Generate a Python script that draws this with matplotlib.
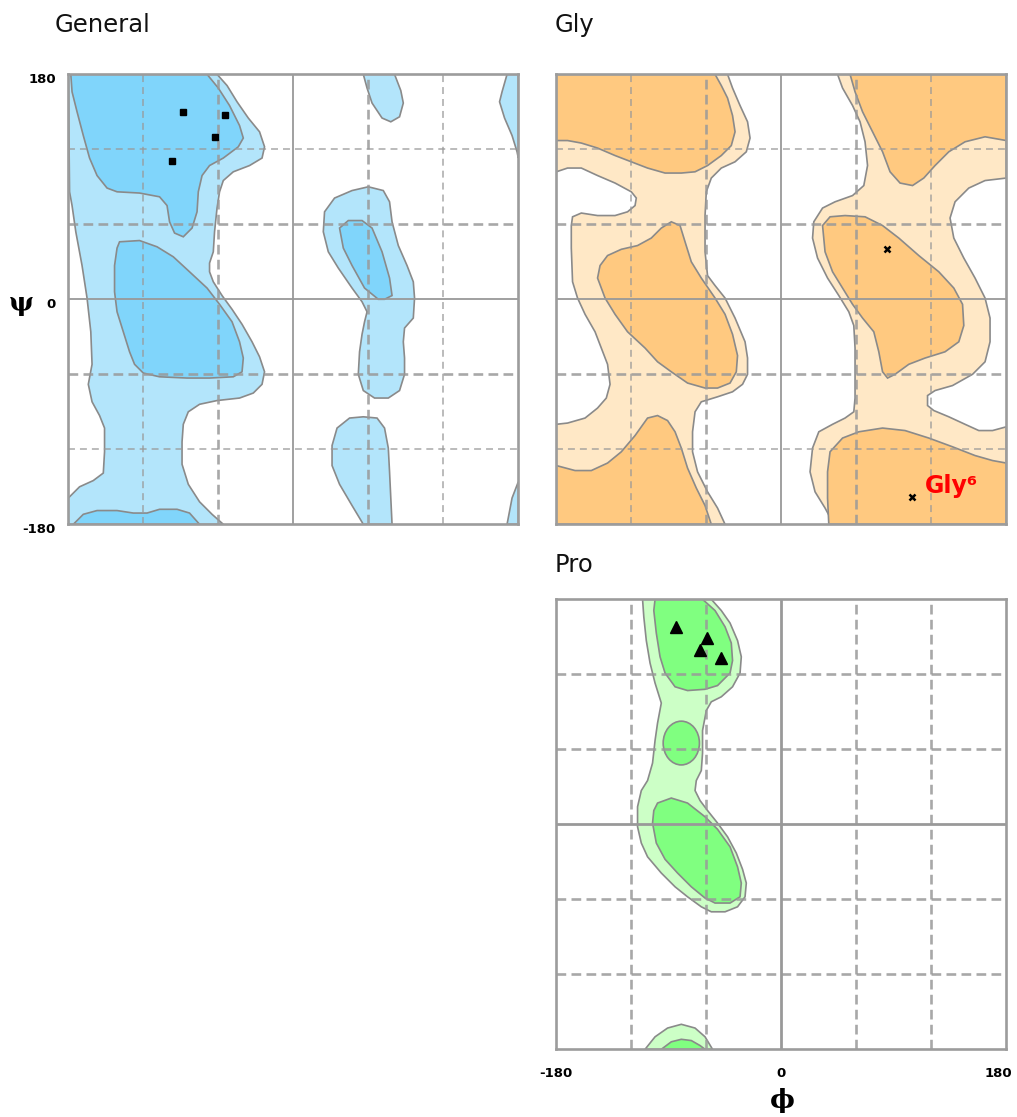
import matplotlib
matplotlib.use("Agg")
import matplotlib.pyplot as plt
from matplotlib.patches import Polygon, Ellipse
from matplotlib.transforms import ScaledTranslation

# region outlines as (phi, psi) in degrees
general_outer = [(-180, 180), (-61, 180), (-53, 171), (-45, 158), (-36, 145), (-27, 134), (-23, 122), (-25, 113),
                 (-35, 107), (-48, 102), (-56, 95), (-59, 86), (-61, 73), (-63, 54), (-64, 38), (-67, 29), (-67, 22),
                 (-64, 14), (-57, 3), (-49, -8), (-41, -20), (-33, -34), (-27, -46), (-23, -58), (-25, -68), (-32, -75),
                 (-43, -79), (-61, -81), (-75, -84), (-84, -90), (-88, -100), (-89, -114), (-89, -132), (-84, -148),
                 (-75, -162), (-65, -172), (-56, -180), (-180, -180), (-180, -159), (-171, -150), (-160, -145),
                 (-152, -139), (-151, -122), (-151, -103), (-155, -93), (-161, -82), (-164, -68), (-161, -52),
                 (-162, -26), (-165, 1), (-169, 27), (-174, 54), (-177, 75), (-179, 86)]
general_top_core = [(-178, 180), (-69, 180), (-60, 169), (-51, 155), (-43, 139), (-40, 129), (-44, 122), (-56, 113),
                    (-67, 107), (-73, 99), (-76, 86), (-77, 70), (-81, 57), (-88, 50), (-95, 53), (-99, 62), (-101, 75),
                    (-107, 82), (-123, 85), (-141, 86), (-149, 89), (-157, 99), (-163, 113), (-168, 131), (-173, 150),
                    (-177, 166)]
general_mid_core = [(-139, 46), (-123, 47), (-109, 42), (-96, 34), (-83, 22), (-69, 9), (-59, -4), (-49, -18),
                    (-43, -34), (-40, -47), (-41, -58), (-48, -62), (-67, -63), (-85, -63), (-107, -62), (-120, -59),
                    (-127, -52), (-131, -42), (-136, -26), (-141, -10), (-143, 6), (-143, 27), (-141, 41)]
general_bottom_core = [(-176, -180), (-168, -172), (-157, -169), (-141, -169), (-128, -171), (-117, -171),
                       (-107, -168), (-93, -168), (-83, -171), (-75, -180)]
general_alpha_l = [(60, 90), (72, 87), (77, 78), (79, 62), (84, 43), (91, 27), (96, 14), (97, 1), (96, -15), (89, -23),
                   (88, -34), (89, -47), (89, -60), (85, -73), (76, -79), (65, -79), (56, -73), (52, -60), (53, -42),
                   (55, -28), (57, -18), (59, -10), (55, -2), (47, 9), (36, 25), (28, 38), (24, 54), (25, 70), (33, 81),
                   (47, 87)]
general_alpha_l_core = [(37, 57), (44, 63), (55, 63), (63, 57), (71, 38), (77, 17), (79, 3), (73, 0), (68, 0), (57, 9),
                        (47, 27), (40, 41)]
general_top_mid = [(56, 180), (59, 169), (63, 157), (71, 145), (78, 142), (85, 146), (88, 157), (86, 167), (81, 180)]
general_bottom_mid = [(56, -94), (67, -95), (73, -103), (76, -119), (77, -138), (78, -159), (79, -180), (56, -180),
                      (47, -165), (37, -148), (31, -133), (31, -117), (35, -103), (45, -95)]
general_right_top = [(171, 180), (167, 166), (165, 158), (169, 145), (175, 131), (179, 118), (180, 113), (180, 180)]
general_right_bottom = [(180, -146), (175, -159), (171, -180), (180, -180)]

gly_left_outer = [(-180, 180), (-43, 180), (-39, 169), (-33, 155), (-27, 142), (-25, 129), (-28, 118), (-37, 110),
                  (-48, 105), (-56, 97), (-60, 86), (-61, 67), (-61, 38), (-59, 19), (-53, 11), (-45, 1), (-37, -15),
                  (-29, -34), (-27, -47), (-27, -60), (-31, -68), (-39, -74), (-51, -78), (-64, -82), (-69, -90),
                  (-71, -106), (-71, -122), (-67, -138), (-59, -154), (-51, -167), (-45, -180), (-180, -180),
                  (-180, -100), (-171, -99), (-157, -95), (-147, -87), (-140, -79), (-137, -68), (-139, -52),
                  (-144, -39), (-149, -26), (-157, -12), (-163, 1), (-167, 14), (-168, 41), (-168, 59), (-167, 66),
                  (-160, 69), (-147, 67), (-133, 67), (-123, 70), (-117, 75), (-116, 81), (-120, 86), (-133, 93),
                  (-147, 99), (-160, 105), (-171, 105), (-180, 102)]
gly_left_top_core = [(-180, 180), (-53, 180), (-48, 171), (-43, 161), (-39, 147), (-37, 134), (-40, 123), (-48, 115),
                     (-59, 107), (-69, 102), (-80, 101), (-93, 101), (-107, 105), (-120, 110), (-133, 115),
                     (-147, 121), (-160, 125), (-171, 127), (-180, 127)]
gly_left_mid_core = [(-88, 62), (-81, 59), (-77, 46), (-72, 30), (-64, 17), (-53, 1), (-45, -12), (-39, -28),
                     (-35, -45), (-36, -58), (-41, -67), (-51, -71), (-61, -71), (-75, -67), (-88, -58), (-99, -50),
                     (-109, -39), (-123, -26), (-133, -12), (-141, 1), (-147, 17), (-145, 27), (-139, 35), (-128, 40),
                     (-115, 43), (-104, 49), (-96, 57)]
gly_left_bottom_core = [(-180, -133), (-165, -137), (-152, -137), (-139, -131), (-128, -122), (-117, -109),
                        (-107, -95), (-99, -93), (-91, -97), (-85, -106), (-80, -119), (-75, -135), (-68, -151),
                        (-61, -165), (-56, -180), (-180, -180)]
gly_right_outer = [(45, 180), (49, 169), (57, 155), (63, 142), (67, 126), (69, 107), (66, 91), (57, 83), (43, 78),
                   (33, 73), (26, 62), (25, 49), (29, 33), (37, 17), (46, 3), (54, -10), (58, -21), (59, -39),
                   (59, -58), (59, -79), (58, -90), (51, -95), (41, -100), (30, -106), (25, -119), (23, -138),
                   (27, -154), (35, -167), (42, -180), (180, -180), (180, -102), (169, -105), (158, -105), (147, -100),
                   (134, -94), (122, -89), (117, -85), (117, -77), (123, -73), (137, -69), (153, -60), (163, -50),
                   (167, -34), (167, -15), (163, 1), (155, 17), (146, 33), (138, 49), (135, 65), (139, 78), (150, 89),
                   (163, 95), (180, 97), (180, 180)]
gly_right_top_core = [(55, 180), (59, 166), (65, 150), (73, 134), (81, 118), (87, 102), (95, 93), (105, 91), (114, 97),
                      (123, 107), (134, 118), (147, 126), (163, 130), (180, 127), (180, 180)]
gly_right_mid_core = [(33, 59), (39, 66), (51, 67), (67, 66), (81, 59), (94, 49), (110, 35), (126, 22), (138, 9),
                      (145, -4), (146, -21), (142, -34), (131, -42), (115, -47), (102, -52), (91, -60), (85, -63),
                      (81, -58), (78, -42), (74, -26), (65, -15), (57, -4), (49, 9), (41, 22), (35, 38)]
gly_right_bottom_core = [(38, -180), (37, -159), (37, -138), (39, -122), (49, -111), (62, -106), (81, -103),
                         (99, -105), (118, -111), (137, -118), (155, -125), (169, -129), (180, -131), (180, -180)]

pro_outer = [(-111, 180), (-56, 180), (-48, 171), (-41, 161), (-35, 147), (-32, 134), (-33, 121), (-39, 110),
             (-48, 102), (-56, 98), (-60, 91), (-63, 75), (-63, 57), (-64, 43), (-68, 35), (-69, 27), (-65, 19),
             (-59, 11), (-51, 1), (-43, -10), (-36, -23), (-31, -36), (-28, -47), (-29, -58), (-35, -66), (-45, -70),
             (-56, -70), (-64, -66), (-75, -58), (-85, -50), (-96, -39), (-107, -26), (-112, -15), (-115, -2),
             (-115, 14), (-112, 27), (-107, 35), (-103, 49), (-101, 67), (-99, 81), (-96, 97), (-101, 113),
             (-105, 129), (-108, 147), (-110, 166)]
pro_top_core = [(-101, 180), (-63, 180), (-53, 171), (-45, 158), (-40, 145), (-39, 131), (-41, 121), (-51, 111),
                (-61, 108), (-75, 107), (-85, 110), (-93, 121), (-97, 134), (-100, 153), (-102, 171)]
pro_alpha_core = [(-99, 17), (-88, 21), (-75, 17), (-61, 6), (-51, -4), (-41, -18), (-35, -34), (-32, -47), (-33, -58),
                  (-41, -63), (-53, -63), (-61, -59), (-72, -50), (-83, -39), (-93, -28), (-100, -15), (-103, 1),
                  (-102, 11)]
pro_bottom_outer = [(-109, -180), (-101, -170), (-91, -163), (-80, -160), (-69, -163), (-61, -170), (-55, -180)]
pro_bottom_core = [(-96, -180), (-88, -174), (-80, -172), (-72, -173), (-65, -177), (-61, -180)]
pro_mid_core_center = (-80, 65)
pro_mid_core_size = (29, 35)

# residues
general_phi = [-88.5, -54.7, -62.4, -97.3]
general_psi = [150.1, 147.5, 130.1, 110.9]
gly_phi = [84.5, 104.5]
gly_psi = [40.3, -157.9]
pro_phi = [-84.0, -59.2, -65.1, -48.3]
pro_psi = [157.6, 149.3, 139.5, 132.8]

tick_vals = [-180, 0, 180]
tick_labels = ["-180", "0", "180"]
grid_vals = [-120, -60, 60, 120]

plt.rcParams["lines.scale_dashes"] = False

W, H = 1017, 1117
fig = plt.figure(figsize=(W / 100, H / 100), dpi=100)


def box(x0, y0, x1, y1):
    return [x0 / W, 1 - y1 / H, (x1 - x0) / W, (y1 - y0) / H]


ax_gen = fig.add_axes(box(68.3, 74.3, 518.3, 524.3))
ax_gly = fig.add_axes(box(556.3, 74.3, 1006.3, 524.3))
ax_pro = fig.add_axes(box(556.3, 599.3, 1006.3, 1049.3))

edge = "#8a8a8a"
grid_col = "#999999"


def setup(ax, thick_all):
    ax.set_xlim(-180, 180)
    ax.set_ylim(-180, 180)
    ax.set_xticks([])
    ax.set_yticks([])
    for s in ax.spines.values():
        s.set_color("#9c9c9c")
        s.set_linewidth(1.9)
        s.set_zorder(6)
    for v in grid_vals:
        if thick_all or abs(v) == 60:
            lw, ls = 1.9, (0, (7.0, 3.8))
        else:
            lw, ls = 1.1, (0, (5.0, 3.6))
        ax.axvline(v, color=grid_col, lw=lw, ls=ls, alpha=0.85, zorder=3)
        ax.axhline(v, color=grid_col, lw=lw, ls=ls, alpha=0.85, zorder=3)
    zlw = 2.0 if thick_all else 1.3
    ax.axvline(0, color=grid_col, lw=zlw, zorder=3)
    ax.axhline(0, color=grid_col, lw=zlw, zorder=3)


def fill(ax, pts, color, z):
    ax.add_patch(Polygon(pts, closed=True, facecolor=color, edgecolor=edge, lw=1.2, zorder=z))


# General
setup(ax_gen, False)
gen_light, gen_dark = "#b3e5fb", "#80d5fb"
for pts in [general_outer, general_alpha_l, general_top_mid, general_bottom_mid, general_right_top,
            general_right_bottom]:
    fill(ax_gen, pts, gen_light, 1)
for pts in [general_top_core, general_mid_core, general_bottom_core, general_alpha_l_core]:
    fill(ax_gen, pts, gen_dark, 2)
ax_gen.plot(general_phi, general_psi, "s", color="black", ms=4.3, zorder=7)

# Gly
setup(ax_gly, False)
gly_light, gly_dark = "#ffe8c6", "#ffc980"
for pts in [gly_left_outer, gly_right_outer]:
    fill(ax_gly, pts, gly_light, 1)
for pts in [gly_left_top_core, gly_left_mid_core, gly_left_bottom_core, gly_right_top_core, gly_right_mid_core,
            gly_right_bottom_core]:
    fill(ax_gly, pts, gly_dark, 2)
ax_gly.plot(gly_phi, gly_psi, "x", color="black", ms=5, mew=1.8, zorder=7)
ax_gly.text(115, -149, "Gly\u2076", color="#ff0000", fontsize=17, fontweight="bold",
            ha="left", va="center", zorder=8)

# Pro
setup(ax_pro, True)
pro_light, pro_dark = "#ccffc6", "#80ff80"
for pts in [pro_outer, pro_bottom_outer]:
    fill(ax_pro, pts, pro_light, 1)
for pts in [pro_top_core, pro_alpha_core, pro_bottom_core]:
    fill(ax_pro, pts, pro_dark, 2)
ax_pro.add_patch(Ellipse(pro_mid_core_center, pro_mid_core_size[0], pro_mid_core_size[1],
                         facecolor=pro_dark, edgecolor=edge, lw=1.2, zorder=2))
ax_pro.plot(pro_phi, pro_psi, "^", color="black", ms=8.5, zorder=7)

# axis ticks and labels
ax_gen.set_yticks(tick_vals, labels=tick_labels)
ax_gen.tick_params(axis="y", length=0, pad=9, labelsize=9.5)
for lab in ax_gen.get_yticklabels():
    lab.set_fontweight("bold")
    lab.set_transform(lab.get_transform() + ScaledTranslation(0, -0.04, fig.dpi_scale_trans))
ax_gen.set_ylabel("\u03c8", rotation=0, fontsize=19, fontweight="bold", family="DejaVu Serif",
                  ha="center", va="center")
ax_gen.yaxis.set_label_coords(-0.105, 0.49)

ax_pro.set_xticks(tick_vals, labels=tick_labels)
ax_pro.tick_params(axis="x", length=0, pad=13, labelsize=9.5)
pro_xlabels = ax_pro.get_xticklabels()
for lab in pro_xlabels:
    lab.set_fontweight("bold")
# the 180 label sits a little inside the right edge, as in the reference
pro_xlabels[-1].set_transform(pro_xlabels[-1].get_transform()
                              + ScaledTranslation(-0.08, 0, fig.dpi_scale_trans))
ax_pro.set_xlabel("\u03d5", fontsize=19, fontweight="bold", family="DejaVu Serif", ha="center", va="center")
ax_pro.xaxis.set_label_coords(0.502, -0.113)

# panel titles
fig.text(55 / W, 1 - 25 / H, "General", fontsize=17.5, ha="left", va="center", color="#111111")
fig.text(555 / W, 1 - 25 / H, "Gly", fontsize=17.5, ha="left", va="center", color="#111111")
fig.text(555 / W, 1 - 565 / H, "Pro", fontsize=17.5, ha="left", va="center", color="#111111")

fig.savefig("out.png", dpi=100)
